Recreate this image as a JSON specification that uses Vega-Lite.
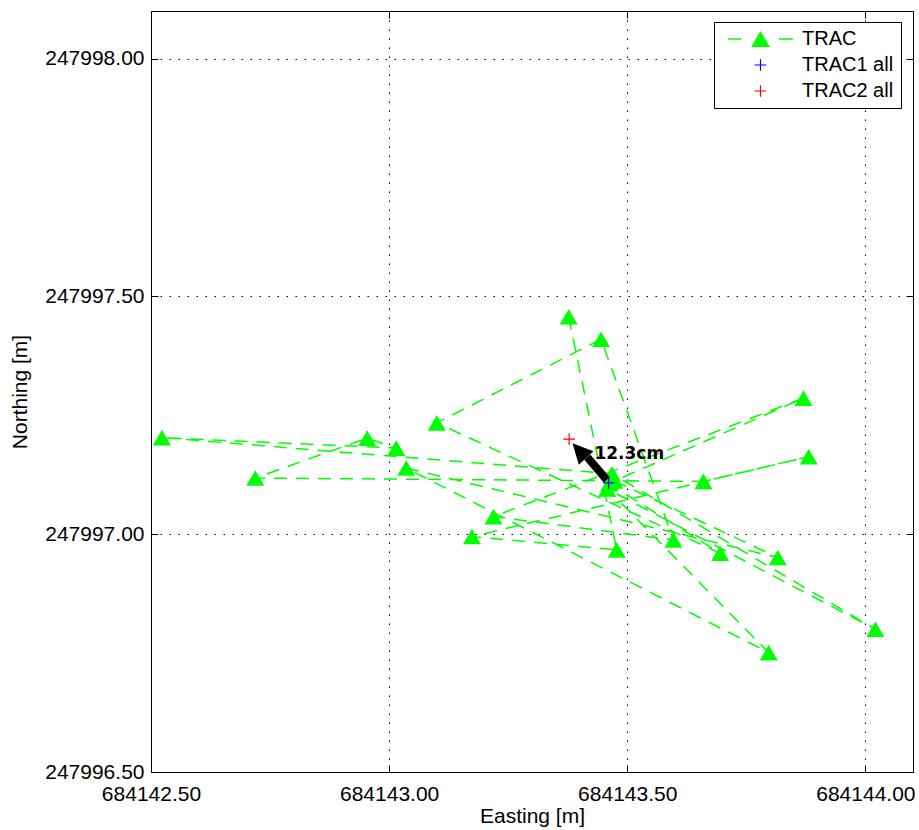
{
  "$schema": "https://vega.github.io/schema/vega-lite/v6.json",
  "width": 762,
  "height": 761,
  "autosize": "none",
  "padding": {"left": 151, "top": 11, "right": 6, "bottom": 58},
  "background": "white",
  "datasets": {
    "track": [
      {"order": 1, "x": 684143.377, "y": 247997.457, "series": "TRAC"},
      {"order": 2, "x": 684143.478, "y": 247996.967, "series": "TRAC"},
      {"order": 3, "x": 684143.174, "y": 247996.995, "series": "TRAC"},
      {"order": 4, "x": 684143.881, "y": 247997.163, "series": "TRAC"},
      {"order": 5, "x": 684143.660, "y": 247997.111, "series": "TRAC"},
      {"order": 6, "x": 684142.719, "y": 247997.118, "series": "TRAC"},
      {"order": 7, "x": 684142.954, "y": 247997.202, "series": "TRAC"},
      {"order": 8, "x": 684143.015, "y": 247997.181, "series": "TRAC"},
      {"order": 9, "x": 684142.523, "y": 247997.203, "series": "TRAC"},
      {"order": 10, "x": 684143.468, "y": 247997.127, "series": "TRAC"},
      {"order": 11, "x": 684144.021, "y": 247996.800, "series": "TRAC"},
      {"order": 12, "x": 684143.458, "y": 247997.095, "series": "TRAC"},
      {"order": 13, "x": 684143.797, "y": 247996.751, "series": "TRAC"},
      {"order": 14, "x": 684143.036, "y": 247997.139, "series": "TRAC"},
      {"order": 15, "x": 684143.816, "y": 247996.951, "series": "TRAC"},
      {"order": 16, "x": 684143.473, "y": 247997.112, "series": "TRAC"},
      {"order": 17, "x": 684143.870, "y": 247997.286, "series": "TRAC"},
      {"order": 18, "x": 684143.219, "y": 247997.037, "series": "TRAC"},
      {"order": 19, "x": 684143.597, "y": 247996.988, "series": "TRAC"},
      {"order": 20, "x": 684143.445, "y": 247997.410, "series": "TRAC"},
      {"order": 21, "x": 684143.100, "y": 247997.234, "series": "TRAC"},
      {"order": 22, "x": 684143.695, "y": 247996.960, "series": "TRAC"},
      {"order": 23, "x": 684143.462, "y": 247997.106, "series": "TRAC"}
    ],
    "refs": [
      {"x": 684143.461, "y": 247997.108, "series": "TRAC1 all"},
      {"x": 684143.378, "y": 247997.200, "series": "TRAC2 all"}
    ],
    "arrow": [
      {"x": 684143.457, "y": 247997.114, "x2": 684143.416, "y2": 247997.162, "tipx": 684143.385, "tipy": 247997.191, "label": "12.3cm", "lx": 684143.431, "ly": 247997.158}
    ]
  },
  "layer": [
    {
      "data": {"name": "track"},
      "mark": {"type": "line", "color": "#00ff00", "strokeWidth": 1.5, "strokeDash": [13, 9]},
      "encoding": {
        "x": {"field": "x", "type": "quantitative",
              "scale": {"domain": [684142.5, 684144.1], "nice": false, "zero": false},
              "axis": {"orient": "bottom", "values": [684142.5, 684143, 684143.5, 684144], "format": ".2f",
                       "title": "Easting [m]", "grid": true, "tickSize": -7, "labelPadding": 18, "titlePadding": 1}},
        "y": {"field": "y", "type": "quantitative",
              "scale": {"domain": [247996.5, 247998.1], "nice": false, "zero": false},
              "axis": {"orient": "left", "values": [247996.5, 247997, 247997.5, 247998], "format": ".2f",
                       "title": "Northing [m]", "grid": true, "tickSize": -7, "labelPadding": 14, "titlePadding": 14}},
        "order": {"field": "order", "type": "quantitative"}
      }
    },
    {
      "data": {"name": "track"},
      "mark": {"type": "point", "filled": true, "opacity": 1, "size": 324, "color": "#00ff00", "shape": "M0,-0.866L1,0.866L-1,0.866Z"},
      "encoding": {
        "x": {"field": "x", "type": "quantitative",
              "scale": {"domain": [684142.5, 684144.1], "nice": false, "zero": false},
              "axis": {"orient": "top", "values": [684142.5, 684143, 684143.5, 684144], "labels": false,
                       "title": null, "grid": false, "domain": false, "tickSize": -7}},
        "y": {"field": "y", "type": "quantitative",
              "scale": {"domain": [247996.5, 247998.1], "nice": false, "zero": false},
              "axis": {"orient": "right", "values": [247996.5, 247997, 247997.5, 247998], "labels": false,
                       "title": null, "grid": false, "domain": false, "tickSize": -7}}
      }
    },
    {
      "data": {"name": "arrow"},
      "mark": {"type": "rule", "color": "black", "strokeWidth": 8},
      "encoding": {
        "x": {"field": "x", "type": "quantitative", "scale": {"domain": [684142.5, 684144.1], "nice": false, "zero": false}, "axis": null},
        "y": {"field": "y", "type": "quantitative", "scale": {"domain": [247996.5, 247998.1], "nice": false, "zero": false}, "axis": null},
        "x2": {"field": "x2"},
        "y2": {"field": "y2"}
      }
    },
    {
      "data": {"name": "arrow"},
      "mark": {"type": "point", "filled": true, "opacity": 1, "color": "black", "size": 400, "angle": 317,
               "shape": "M0,0L1,2L-1,2Z"},
      "encoding": {
        "x": {"field": "tipx", "type": "quantitative", "scale": {"domain": [684142.5, 684144.1], "nice": false, "zero": false}, "axis": null},
        "y": {"field": "tipy", "type": "quantitative", "scale": {"domain": [247996.5, 247998.1], "nice": false, "zero": false}, "axis": null}
      }
    },
    {
      "data": {"name": "refs"},
      "mark": {"type": "point", "filled": true, "opacity": 1, "size": 324},
      "encoding": {
        "x": {"field": "x", "type": "quantitative", "scale": {"domain": [684142.5, 684144.1], "nice": false, "zero": false}, "axis": null},
        "y": {"field": "y", "type": "quantitative", "scale": {"domain": [247996.5, 247998.1], "nice": false, "zero": false}, "axis": null},
        "color": {"field": "series", "type": "nominal",
                  "scale": {"domain": ["TRAC", "TRAC1 all", "TRAC2 all"], "range": ["#00ff00", "#0000ff", "#ff0000"]},
                  "legend": {"orient": "none", "legendX": 563, "legendY": 11, "title": null, "padding": 7,
                             "symbolOffset": 29.5, "labelOffset": 31.5, "rowPadding": 6, "symbolSize": 324,
                             "strokeColor": "black", "fillColor": "white", "cornerRadius": 0,
                             "labelFont": "Liberation Sans", "labelFontSize": 20, "labelColor": "black",
                             "symbolStrokeWidth": 0}},
        "shape": {"field": "series", "type": "nominal",
                  "scale": {"domain": ["TRAC", "TRAC1 all", "TRAC2 all"],
                            "range": ["M-3.6,-0.08H-2.15V0.08H-3.6Z M2.05,-0.08H3.6V0.08H2.05Z M0,-0.89L1.05,0.89L-1.05,0.89Z",
                                      "M-0.65,-0.065H0.65V0.065H-0.65Z M-0.065,-0.65H0.065V0.65H-0.065Z",
                                      "M-0.65,-0.065H0.65V0.065H-0.65Z M-0.065,-0.65H0.065V0.65H-0.065Z"]},
                  "legend": {"orient": "none", "legendX": 563, "legendY": 11, "title": null, "padding": 7,
                             "symbolOffset": 29.5, "labelOffset": 31.5, "rowPadding": 6, "symbolSize": 324,
                             "strokeColor": "black", "fillColor": "white", "cornerRadius": 0,
                             "labelFont": "Liberation Sans", "labelFontSize": 20, "labelColor": "black",
                             "symbolStrokeWidth": 0}}
      }
    },
    {
      "data": {"name": "arrow"},
      "mark": {"type": "text", "font": "DejaVu Sans", "fontWeight": "bold", "fontSize": 17, "align": "left", "baseline": "alphabetic", "color": "black"},
      "encoding": {
        "x": {"field": "lx", "type": "quantitative", "scale": {"domain": [684142.5, 684144.1], "nice": false, "zero": false}, "axis": null},
        "y": {"field": "ly", "type": "quantitative", "scale": {"domain": [247996.5, 247998.1], "nice": false, "zero": false}, "axis": null},
        "text": {"field": "label"}
      }
    }
  ],
  "resolve": {"axis": {"x": "independent", "y": "independent"}},
  "config": {
    "view": {"stroke": "black", "strokeWidth": 1},
    "axis": {
      "labelFont": "Liberation Sans", "labelFontSize": 21, "labelColor": "black",
      "titleFont": "Liberation Sans", "titleFontSize": 21, "titleFontWeight": "normal", "titleColor": "black",
      "domainColor": "black", "tickColor": "black", "gridColor": "black", "gridOpacity": 1, "gridDash": [1.5, 7.5],
      "labelFlush": false, "labelOverlap": false
    }
  }
}
